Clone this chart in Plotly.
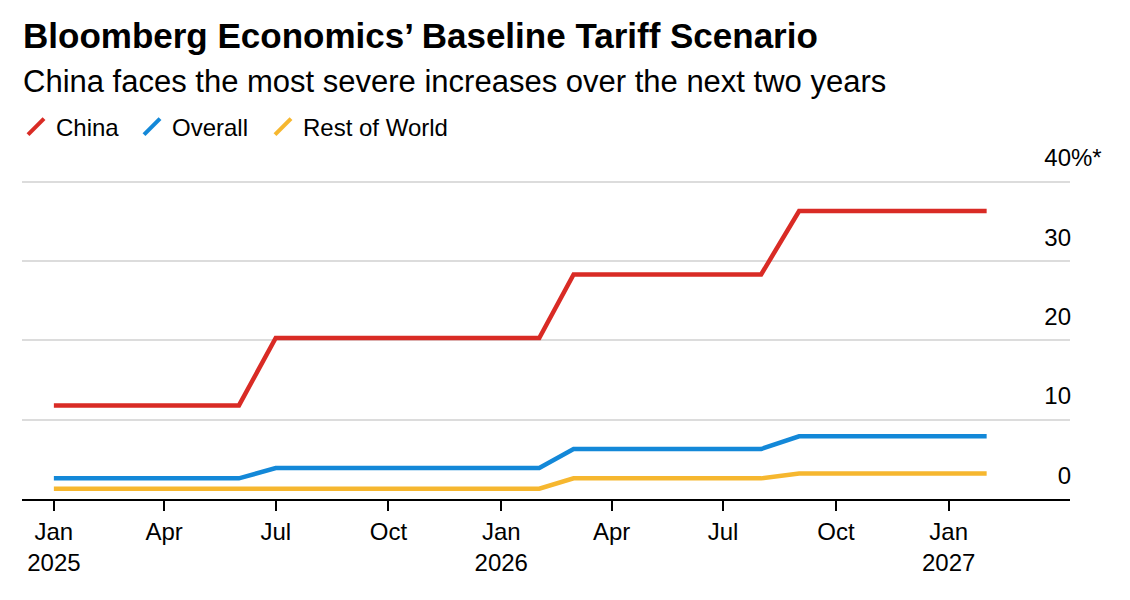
import plotly.graph_objects as go

dates = ["2025-01-01", "2025-02-01", "2025-03-01", "2025-04-01", "2025-05-01", "2025-06-01",
         "2025-07-01", "2025-08-01", "2025-09-01", "2025-10-01", "2025-11-01", "2025-12-01",
         "2026-01-01", "2026-02-01", "2026-03-01", "2026-04-01", "2026-05-01", "2026-06-01",
         "2026-07-01", "2026-08-01", "2026-09-01", "2026-10-01", "2026-11-01", "2026-12-01",
         "2027-01-01", "2027-02-01"]
china = [11.8, 11.8, 11.8, 11.8, 11.8, 11.8,
         20.3, 20.3, 20.3, 20.3, 20.3, 20.3,
         20.3, 20.3, 28.3, 28.3, 28.3, 28.3,
         28.3, 28.3, 36.3, 36.3, 36.3, 36.3,
         36.3, 36.3]
overall = [2.6, 2.6, 2.6, 2.6, 2.6, 2.6,
           3.9, 3.9, 3.9, 3.9, 3.9, 3.9,
           3.9, 3.9, 6.3, 6.3, 6.3, 6.3,
           6.3, 6.3, 7.9, 7.9, 7.9, 7.9,
           7.9, 7.9]
rest_of_world = [1.3, 1.3, 1.3, 1.3, 1.3, 1.3,
                 1.3, 1.3, 1.3, 1.3, 1.3, 1.3,
                 1.3, 1.3, 2.6, 2.6, 2.6, 2.6,
                 2.6, 2.6, 3.2, 3.2, 3.2, 3.2,
                 3.2, 3.2]

series_names = ["China", "Overall", "Rest of World"]
series_colors = ["#d92b25", "#1388d8", "#f6b72f"]
series_values = [china, overall, rest_of_world]

x_tickvals = ["2025-01-01", "2025-04-01", "2025-07-01", "2025-10-01", "2026-01-01",
              "2026-04-01", "2026-07-01", "2026-10-01", "2027-01-01"]
x_ticktext = ["Jan<br>2025", "Apr", "Jul", "Oct", "Jan<br>2026", "Apr", "Jul", "Oct", "Jan<br>2027"]
y_tickvals = [0, 10, 20, 30, 40]
y_ticktext = ["0", "10", "20", "30", "40"]

title = "Bloomberg Economics’ Baseline Tariff Scenario"
subtitle = "China faces the most severe increases over the next two years"

FONT = "Liberation Sans, Arial, Helvetica, sans-serif"

# page geometry (the page body has an 8px margin)
OFF = 8
PLOT_L, PLOT_R, PLOT_B = 22, 1070, 499
Y_MAX = 45
PX_PER_UNIT = (499 - 181.7) / 40
PLOT_T = PLOT_B - Y_MAX * PX_PER_UNIT
PW = PLOT_R - PLOT_L
PH = PLOT_B - PLOT_T

def py(Y):
    return (PLOT_B - Y) / PH

def px(X):
    return (X - PLOT_L) / PW

legend_names = ["legend", "legend2", "legend3"]
legend_text_x = [56, 172, 303]

fig = go.Figure()
for name, color, vals in zip(series_names, series_colors, series_values):
    fig.add_trace(go.Scatter(x=dates, y=vals, mode="lines", name=name,
                             line=dict(color=color, width=4.5),
                             showlegend=False, hoverinfo="x+y+name"))
for name, color, lg in zip(series_names, series_colors, legend_names):
    fig.add_trace(go.Scatter(x=[None], y=[None], mode="markers", name=name,
                             marker=dict(symbol="line-ne", size=26,
                                         line=dict(color=color, width=4)),
                             showlegend=True, legend=lg))

legend_common = dict(orientation="h", xanchor="left", yanchor="middle", y=py(127),
                     font=dict(size=24, color="#000000", family=FONT),
                     bgcolor="rgba(0,0,0,0)", itemclick=False, itemdoubleclick=False)

fig.update_layout(
    width=1130, height=600,
    margin=dict(l=PLOT_L - OFF, r=1130 + OFF - PLOT_R, t=PLOT_T - OFF, b=600 + OFF - PLOT_B,
                autoexpand=False),
    paper_bgcolor="white", plot_bgcolor="white",
    font=dict(family=FONT, size=24, color="#000000"),
    showlegend=True,
    legend=dict(x=px(legend_text_x[0] - 40), **legend_common),
    legend2=dict(x=px(legend_text_x[1] - 40), **legend_common),
    legend3=dict(x=px(legend_text_x[2] - 40), **legend_common),
    xaxis=dict(type="date", range=["2024-12-06", "2027-04-10"],
               tickvals=x_tickvals, ticktext=x_ticktext,
               showgrid=False, zeroline=False,
               showline=True, linecolor="#000000", linewidth=2,
               ticks="outside", ticklen=10, tickwidth=2, tickcolor="#000000",
               tickfont=dict(size=24, color="#000000")),
    yaxis=dict(range=[0, Y_MAX], side="right", tickvals=y_tickvals, ticktext=y_ticktext,
               showgrid=True, gridcolor="#dcdcdc", gridwidth=2, zeroline=False,
               showline=False, ticks="", ticklabelposition="inside top", ticklabelshift=-7,
               ticklabelstandoff=-4,
               tickfont=dict(size=24, color="#000000")),
    annotations=[
        dict(text=f"<b>{title}</b>", xref="paper", yref="paper", x=px(21), y=py(35.5),
             xanchor="left", yanchor="middle", showarrow=False,
             font=dict(size=35, color="#000000", family=FONT)),
        dict(text=subtitle, xref="paper", yref="paper", x=px(21), y=py(82),
             xanchor="left", yanchor="middle", showarrow=False,
             font=dict(size=31, color="#000000", family=FONT)),
        dict(text="%*", xref="paper", yref="y", x=1, y=40, xanchor="left",
             yanchor="middle", yshift=24, xshift=-1, showarrow=False,
             font=dict(size=24, color="#000000", family=FONT)),
    ],
)

fig.write_html("out.html")
